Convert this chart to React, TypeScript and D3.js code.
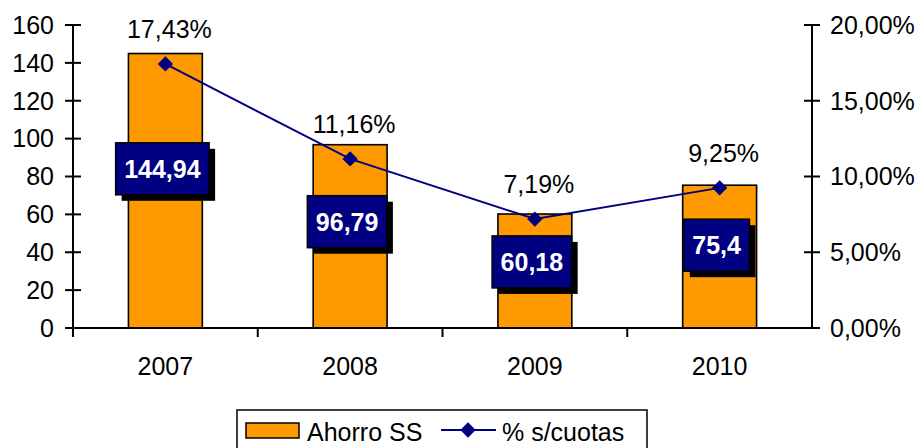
import React from 'react'
import * as d3 from 'd3'

const years = ['2007', '2008', '2009', '2010']
const ahorro = [144.94, 96.79, 60.18, 75.4]
const pctCuotas = [0.1743, 0.1116, 0.0719, 0.0925]
const leftTicks = [0, 20, 40, 60, 80, 100, 120, 140, 160]
const rightTicks = [0, 0.05, 0.1, 0.15, 0.2]
const legendNames = ['Ahorro SS', '% s/cuotas']

const width = 922
const height = 448
const marginLeft = 73
const marginRight = 110
const marginTop = 25
const plotBottom = 328
const font = '"Liberation Sans", Arial, sans-serif'
const fs = 25
const orange = '#FF9900'
const navy = '#000080'

const es = d3.formatLocale({ decimal: ',', thousands: '.', grouping: [3], currency: ['', ' €'] })
const fmtPct = es.format('.2%')
const fmtNum = es.format('~g')

const App = () => {
    const x = d3.scaleBand<string>()
        .domain(years)
        .range([marginLeft, width - marginRight])
        .paddingInner(0.6)
        .paddingOuter(0.3)
    const step = x.step()

    const y = d3.scaleLinear().domain([0, 160]).range([plotBottom, marginTop])
    const y2 = d3.scaleLinear().domain([0, 0.2]).range([plotBottom, marginTop])

    const cx = (d: string) => (x(d) ?? 0) + x.bandwidth() / 2

    const line = d3.line<number>()
        .x((_, i) => cx(years[i]))
        .y(d => y2(d))

    const xLeft = marginLeft
    const xRight = width - marginRight

    // legend layout
    const legX = 237
    const legY = 410

    return (
        <svg
            width={width}
            height={height}
            viewBox={`0 0 ${width} ${height}`}
            style={{ position: 'absolute', left: 0, top: 0, background: 'white' }}
            fontFamily={font}
        >
            {/* bars */}
            {ahorro.map((v, i) => (
                <rect
                    key={years[i]}
                    x={x(years[i])}
                    y={y(v)}
                    width={x.bandwidth()}
                    height={y(0) - y(v)}
                    fill={orange}
                    stroke="black"
                    strokeWidth={1.6}
                />
            ))}

            {/* left axis */}
            <line x1={xLeft} x2={xLeft} y1={marginTop} y2={plotBottom + 9} stroke="black" strokeWidth={2} />
            {leftTicks.map(t => (
                <g key={t}>
                    <line x1={xLeft - 8} x2={xLeft + 8} y1={y(t)} y2={y(t)} stroke="black" strokeWidth={2} />
                    <text x={xLeft - 19} y={y(t)} dy="0.35em" textAnchor="end" fontSize={fs}>{t}</text>
                </g>
            ))}

            {/* right axis */}
            <line x1={xRight} x2={xRight} y1={marginTop} y2={plotBottom} stroke="black" strokeWidth={2} />
            {rightTicks.map(t => (
                <g key={t}>
                    <line x1={xRight - 8} x2={xRight + 8} y1={y2(t)} y2={y2(t)} stroke="black" strokeWidth={2} />
                    <text x={xRight + 18} y={y2(t)} dy="0.35em" textAnchor="start" fontSize={fs}>{fmtPct(t)}</text>
                </g>
            ))}

            {/* category axis */}
            <line x1={xLeft} x2={xRight} y1={plotBottom} y2={plotBottom} stroke="black" strokeWidth={2} />
            {d3.range(1, years.length).map(i => (
                <line key={i} x1={xLeft + i * step} x2={xLeft + i * step} y1={plotBottom} y2={plotBottom + 9} stroke="black" strokeWidth={2} />
            ))}
            {years.map(yr => (
                <text key={yr} x={cx(yr)} y={375} textAnchor="middle" fontSize={fs}>{yr}</text>
            ))}

            {/* bar value labels */}
            {ahorro.map((v, i) => {
                const label = fmtNum(v)
                const tw = label.length * fs * 0.556 - (label.includes(',') ? fs * 0.278 : 0)
                const bw = tw + 17
                const bh = 52
                const ly = y(v * 0.58)
                const bx = cx(years[i]) - 3 - bw / 2
                return (
                    <g key={years[i]}>
                        <rect x={bx + 6} y={ly - bh / 2 + 6} width={bw} height={bh} fill="black" />
                        <rect x={bx} y={ly - bh / 2} width={bw} height={bh} fill={navy} stroke="black" strokeWidth={1.5} />
                        <text x={bx + bw / 2} y={ly} dy="0.36em" textAnchor="middle" fontSize={fs} fontWeight="bold" fill="white">{label}</text>
                    </g>
                )
            })}

            {/* percentage line */}
            <path d={line(pctCuotas) ?? ''} fill="none" stroke={navy} strokeWidth={2} />
            {pctCuotas.map((p, i) => (
                <g key={years[i]}>
                    <path
                        d={d3.symbol(d3.symbolDiamond2, 150)() ?? ''}
                        transform={`translate(${cx(years[i])},${y2(p)})`}
                        fill={navy}
                    />
                    <text x={cx(years[i]) + 4} y={y2(p) - 26} textAnchor="middle" fontSize={fs}>{fmtPct(p)}</text>
                </g>
            ))}

            {/* legend */}
            <rect x={legX} y={legY} width={410} height={60} fill="white" stroke="black" strokeWidth={1.5} />
            <rect x={legX + 9} y={legY + 13} width={53} height={15} fill={orange} stroke="black" strokeWidth={1.5} />
            <text x={legX + 70} y={legY + 28} dy="0.1em" fontSize={fs}>{legendNames[0]}</text>
            <line x1={legX + 204} x2={legX + 259} y1={legY + 20} y2={legY + 20} stroke={navy} strokeWidth={2} />
            <path d={d3.symbol(d3.symbolDiamond2, 150)() ?? ''} transform={`translate(${legX + 231},${legY + 20})`} fill={navy} />
            <text x={legX + 265} y={legY + 28} dy="0.1em" fontSize={fs}>{legendNames[1]}</text>
        </svg>
    )
}

export default App
